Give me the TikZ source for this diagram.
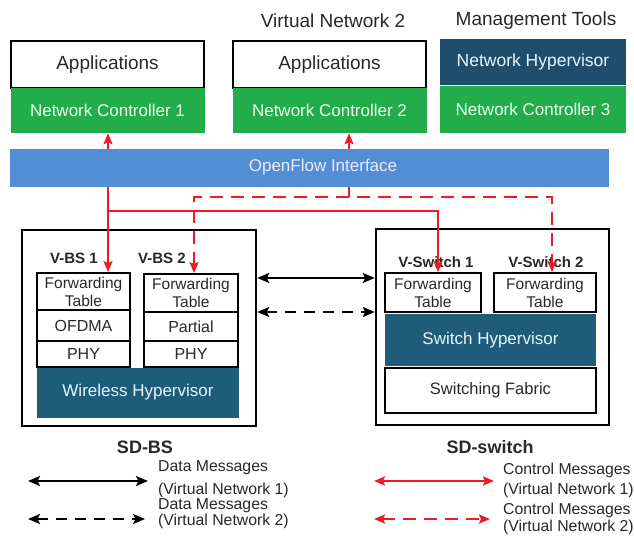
\documentclass[tikz,border=0pt]{standalone}
\usepackage{fontspec}
\setmainfont{Liberation Sans}
\usetikzlibrary{arrows.meta}
\definecolor{ngreen}{RGB}{34,172,74}
\definecolor{nhblue}{RGB}{31,78,108}
\definecolor{hvteal}{RGB}{30,92,122}
\definecolor{ofblue}{RGB}{82,142,214}
\definecolor{cred}{RGB}{236,28,36}
\definecolor{txt}{RGB}{40,40,40}
\tikzset{
  wbox/.style={draw=black, line width=1.4pt, fill=white, text=txt, inner sep=0pt},
  gbox/.style={fill=ngreen, text=white!92!green, inner sep=0pt},
  hbox/.style={fill=hvteal, text=white!90!cyan, inner sep=0pt},
  sbox/.style={draw=black, line width=1.8pt, fill=white, text=txt, inner sep=0pt, align=center},
  outer/.style={draw=black, line width=2.4pt, inner sep=0pt},
  redl/.style={draw=cred, line width=2.2pt},
  redtip/.style={-{Stealth[length=11pt,width=9pt,inset=2pt]}},
  redtips/.style={{Stealth[length=11pt,width=9pt,inset=2pt]}-{Stealth[length=11pt,width=9pt,inset=2pt]}},
  blkl/.style={draw=black, line width=2.2pt, {Stealth[length=12pt,width=10pt,inset=2.5pt]}-{Stealth[length=12pt,width=10pt,inset=2.5pt]}},
  dsh/.style={dash pattern=on 13pt off 8pt},
  bdsh/.style={dash pattern=on 11pt off 8pt},
  lbl/.style={text=txt, inner sep=0pt},
  lgd/.style={text=txt, inner sep=0pt, anchor=west, font=\fontsize{15.8}{18}\selectfont},
}
\begin{document}
\begin{tikzpicture}[x=1pt,y=-1pt]
\useasboundingbox[fill=white] (0,0) rectangle (634,537);
% headers
\node[lbl, font=\fontsize{19}{22}\selectfont] (hvn2) at (333,21) {Virtual Network 2};
\node[lbl, font=\fontsize{19}{22}\selectfont] (hmt) at (536,21) {Management Tools};
% top boxes
\node[wbox, minimum width=193pt, minimum height=47pt, font=\fontsize{19}{22}\selectfont] (app1) at (107.5,64.5) {Applications};
\node[gbox, minimum width=194pt, minimum height=45pt, font=\fontsize{17}{20}\selectfont] (nc1) at (107.5,110.5) {Network Controller 1};
\node[wbox, minimum width=193pt, minimum height=47pt, font=\fontsize{19}{22}\selectfont] (app2) at (329.5,64.5) {Applications};
\node[gbox, minimum width=194pt, minimum height=45pt, font=\fontsize{17}{20}\selectfont] (nc2) at (329.5,110.5) {Network Controller 2};
\node[fill=nhblue, text=white!90!cyan, inner sep=0pt, minimum width=186pt, minimum height=46pt, font=\fontsize{17.5}{20}\selectfont] (nh) at (533,62) {Network Hypervisor};
\node[gbox, minimum width=186pt, minimum height=47pt, font=\fontsize{17}{20}\selectfont] (nc3) at (533,109.5) {Network Controller 3};
% openflow bar
\node[fill=ofblue, inner sep=0pt, minimum width=599pt, minimum height=38pt] (of) at (309.5,168) {};
\node[text=white!92!blue, inner sep=0pt, font=\fontsize{17}{20}\selectfont] (oft) at (323,167) {OpenFlow Interface};
% SD-BS
\node[outer, minimum width=234pt, minimum height=196pt] (sdbs) at (139,328) {};
\node[lbl, font=\bfseries\fontsize{15}{18}\selectfont] (vbs1) at (74,258) {V-BS 1};
\node[lbl, font=\bfseries\fontsize{15}{18}\selectfont] (vbs2) at (162,258) {V-BS 2};
\node[sbox, minimum width=93pt, minimum height=37pt, font=\fontsize{15.5}{18}\selectfont] (ft1) at (83.5,291.5) {Forwarding\\Table};
\node[sbox, minimum width=93pt, minimum height=31pt, font=\fontsize{16}{19}\selectfont] (ofdma) at (83.5,325.5) {OFDMA};
\node[sbox, minimum width=93pt, minimum height=26pt, font=\fontsize{16}{19}\selectfont] (phy1) at (83.5,354) {PHY};
\node[sbox, minimum width=94pt, minimum height=38pt, font=\fontsize{15.5}{18}\selectfont] (ft2) at (191,293) {Forwarding\\Table};
\node[sbox, minimum width=94pt, minimum height=29pt, font=\fontsize{16}{19}\selectfont] (partial) at (191,326.5) {Partial};
\node[sbox, minimum width=94pt, minimum height=26pt, font=\fontsize{16}{19}\selectfont] (phy2) at (191,354) {PHY};
\node[hbox, minimum width=202pt, minimum height=50pt, font=\fontsize{17}{20}\selectfont] (wh) at (138,392.5) {Wireless Hypervisor};
% SD-switch
\node[outer, minimum width=233pt, minimum height=196pt] (sdsw) at (492.5,327) {};
\node[lbl, font=\bfseries\fontsize{15}{18}\selectfont] (vs1) at (436,262) {V-Switch 1};
\node[lbl, font=\bfseries\fontsize{15}{18}\selectfont] (vs2) at (546,262) {V-Switch 2};
\node[sbox, minimum width=96pt, minimum height=39pt, font=\fontsize{15.5}{18}\selectfont] (ft3) at (433,292.5) {Forwarding\\Table};
\node[sbox, minimum width=102pt, minimum height=39pt, font=\fontsize{15.5}{18}\selectfont] (ft4) at (545,292.5) {Forwarding\\Table};
\node[hbox, minimum width=211pt, minimum height=52pt, font=\fontsize{17}{20}\selectfont] (sh) at (490.5,340) {Switch Hypervisor};
\node[sbox, minimum width=211pt, minimum height=45pt, font=\fontsize{16.5}{19}\selectfont] (sf) at (490.5,390.5) {Switching Fabric};
% captions
\node[lbl, font=\bfseries\fontsize{18}{21}\selectfont] (cbs) at (145,447) {SD-BS};
\node[lbl, font=\bfseries\fontsize{18}{21}\selectfont] (csw) at (490,447) {SD-switch};
% red control connectors
\coordinate (r1) at (108,211);
\coordinate (r2) at (438,211);
\coordinate (d0) at (349,197);
\coordinate (d1) at (194,197);
\coordinate (d2) at (552,197);
\draw[redl, redtip] (of.north -| r1) -- (nc1.south -| r1);
\draw[redl, redtip] (of.south -| r1) -- (ft1.north -| r1);
\draw[redl, redtip] (r1) -- (r2) -- (ft3.north -| r2);
\draw[redl, redtip] (of.north -| d0) -- (nc2.south -| d0);
\draw[redl] (of.south -| d0) -- (d0);
\draw[redl, redtips, dsh] (ft2.north -| d1) -- (d1) -- (d2) -- (ft4.north -| d2);
% black data connectors
\coordinate (ya) at (300,278);
\coordinate (yb) at (300,312);
\draw[blkl] (sdbs.east |- ya) -- (sdsw.west |- ya);
\draw[blkl, bdsh] (sdbs.east |- yb) -- (sdsw.west |- yb);
% legend
\coordinate (la1) at (28,481);
\coordinate (la2) at (148,481);
\coordinate (lb1) at (28,519);
\coordinate (lb2) at (145,519);
\coordinate (lc1) at (374,481);
\coordinate (lc2) at (494,481);
\coordinate (ld1) at (374,519);
\coordinate (ld2) at (490,519);
\draw[blkl] (la1) -- (la2);
\draw[blkl, bdsh] (lb1) -- (lb2);
\draw[redl, redtips] (lc1) -- (lc2);
\draw[redl, redtips, dsh] (ld1) -- (ld2);
\node[lgd] (t1) at (158,468) {Data Messages};
\node[lgd] (t2) at (158,490) {(Virtual Network 1)};
\node[lgd] (t3) at (158,506) {Data Messages};
\node[lgd] (t4) at (158,521) {(Virtual Network 2)};
\node[lgd] (t5) at (503,470) {Control Messages};
\node[lgd] (t6) at (503,490) {(Virtual Network 1)};
\node[lgd] (t7) at (503,510) {Control Messages};
\node[lgd] (t8) at (503,527) {(Virtual Network 2)};
\end{tikzpicture}
\end{document}
